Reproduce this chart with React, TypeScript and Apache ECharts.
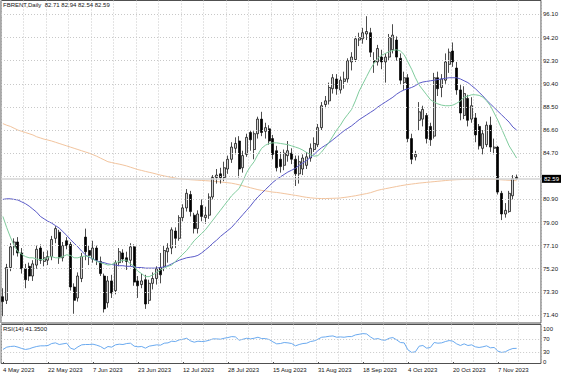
import React, { useEffect, useRef } from 'react';
import * as echarts from 'echarts';

// Trading days shown (MT4 bars), by month of 2023
const MAY = [4, 5, 8, 9, 10, 11, 12, 15, 16, 17, 18, 19, 22, 23, 24, 25, 26, 29, 30, 31];
const JUN = [1, 2, 5, 6, 7, 8, 9, 12, 13, 14, 15, 16, 19, 20, 21, 22, 23, 26, 27, 28, 29, 30];
const JUL = [3, 5, 6, 7, 10, 11, 12, 13, 14, 17, 18, 19, 20, 21, 24, 25, 26, 27, 28, 31];
const AUG = [1, 2, 3, 4, 7, 8, 9, 10, 11, 14, 15, 16, 17, 18, 21, 22, 23, 24, 25, 28, 29, 30, 31];
const SEP = [1, 4, 5, 6, 7, 8, 11, 12, 13, 14, 15, 18, 19, 20, 21, 22, 25, 26, 27, 28, 29];
const OCT = [2, 3, 4, 5, 6, 9, 10, 11, 12, 13, 16, 17, 18, 19, 20, 23, 24, 25, 26, 27, 30, 31];
const NOV = [1, 2, 3, 6, 7, 8, 9, 10, 13, 14];
const EMPTY_SLOTS = 6;

const OPEN = [
  72.9, 72.6, 75.3, 77.0, 77.4, 76.5, 75.2, 75.4, 74.6, 75.5, 76.9, 75.8, 75.9, 76.2, 77.7, 78.2, 76.1, 77.5, 77.2, 73.7,
  72.8, 74.4, 77.8, 76.7, 76.0, 76.9, 75.8, 74.6, 72.4, 74.2, 73.4, 75.7, 76.5, 76.1, 75.9, 77.0, 74.2, 73.9, 74.3, 72.6,
  74.0, 74.4, 75.3, 75.4, 76.6, 76.9, 78.3, 77.7, 79.4, 80.2, 81.3, 79.6, 78.5, 80.4, 79.4, 79.6, 81.1, 82.7, 83.0, 82.7,
  83.4, 84.2, 85.1, 85.7, 83.5, 84.6, 86.4, 85.0, 86.3, 87.5, 86.5, 86.7, 85.9, 84.9, 84.2, 83.7, 84.5, 84.7, 84.2, 83.0,
  83.4, 83.7, 84.3, 85.0, 85.4, 86.8, 88.7, 89.0, 90.0, 90.8, 89.9, 90.6, 90.8, 92.2, 92.4, 94.0, 94.1, 94.5, 94.6, 92.3,
  92.2, 92.6, 92.2, 92.6, 93.2, 94.0, 92.5, 90.5, 90.9, 85.9, 84.4, 87.4, 87.5, 87.8, 86.9, 86.1, 90.9, 90.1, 90.7, 92.0,
  93.1, 91.7, 89.9, 87.8, 89.2, 87.5, 87.6, 86.9, 85.1, 85.4, 87.0, 85.1, 85.2, 81.4, 79.7, 79.9, 81.2, 82.71
];
const HIGH = [
  73.6, 75.6, 77.3, 77.7, 77.8, 76.9, 75.6, 75.7, 75.9, 77.1, 77.2, 76.6, 76.7, 77.9, 78.7, 78.4, 77.4, 77.8, 77.4, 74.0,
  74.9, 76.5, 78.5, 77.1, 77.5, 77.1, 76.2, 74.8, 74.6, 74.7, 75.9, 76.9, 76.8, 76.6, 77.3, 77.2, 74.6, 74.8, 74.7, 74.3,
  74.9, 75.4, 76.5, 77.1, 77.3, 78.6, 78.6, 79.6, 80.5, 81.75, 81.6, 79.8, 80.0, 80.9, 80.3, 81.4, 82.9, 83.4, 83.5, 84.0,
  84.5, 85.6, 86.0, 86.1, 84.9, 86.3, 86.6, 86.5, 87.7, 88.1, 87.2, 87.0, 86.2, 85.3, 84.8, 85.0, 85.7, 85.1, 84.5, 84.5,
  84.6, 84.8, 85.5, 86.0, 87.1, 88.9, 89.4, 90.5, 91.2, 91.2, 91.0, 91.4, 92.5, 93.0, 94.3, 94.6, 95.0, 95.96, 95.0, 93.0,
  93.6, 93.2, 92.9, 94.5, 95.3, 94.3, 92.9, 91.4, 91.2, 86.3, 84.9, 88.9, 88.6, 88.0, 87.2, 91.3, 91.4, 91.2, 92.9, 93.3,
  93.8, 92.2, 90.3, 90.2, 89.5, 89.3, 88.0, 87.1, 86.6, 87.3, 87.7, 85.9, 85.3, 81.6, 80.6, 81.6, 82.9, 82.94
];
const LOW = [
  71.3, 72.3, 75.0, 76.3, 76.2, 74.8, 73.6, 74.2, 74.2, 75.2, 75.6, 75.4, 75.5, 75.9, 77.3, 75.6, 75.8, 76.8, 73.4, 71.5,
  72.5, 74.1, 75.9, 75.5, 75.7, 75.5, 74.6, 71.6, 72.0, 72.8, 73.1, 75.4, 75.7, 75.1, 75.4, 73.8, 72.8, 73.6, 71.9, 72.3,
  73.5, 73.9, 74.0, 75.0, 75.7, 76.4, 76.9, 77.5, 79.1, 79.9, 79.5, 78.1, 78.1, 79.1, 78.9, 79.3, 80.9, 82.2, 82.2, 82.4,
  83.0, 83.9, 84.6, 82.7, 83.1, 84.4, 84.9, 84.2, 85.9, 86.1, 85.9, 85.4, 84.2, 83.2, 83.1, 83.3, 84.0, 83.8, 82.0, 82.2,
  82.9, 83.4, 84.0, 84.8, 85.2, 86.6, 88.4, 88.7, 89.6, 89.5, 89.6, 90.0, 90.5, 91.5, 92.2, 93.5, 93.7, 94.0, 92.6, 91.3,
  91.9, 91.6, 90.5, 92.3, 92.9, 92.3, 90.3, 89.9, 85.6, 83.8, 84.1, 86.6, 86.9, 85.5, 85.3, 85.9, 89.4, 89.3, 90.4, 91.3,
  91.8, 89.5, 87.4, 87.5, 86.9, 87.2, 85.6, 85.0, 84.6, 85.2, 84.8, 84.6, 81.3, 79.2, 79.4, 79.8, 80.9, 82.54
];
const CLOSE = [
  72.5, 75.3, 77.0, 77.4, 76.5, 75.2, 74.3, 74.6, 75.6, 76.8, 75.9, 76.1, 76.2, 77.6, 78.5, 76.1, 77.1, 77.1, 73.7, 72.6,
  74.6, 76.2, 76.6, 76.3, 76.9, 75.9, 74.8, 71.9, 74.2, 73.2, 75.7, 76.6, 76.0, 75.8, 77.0, 74.1, 73.8, 74.2, 72.3, 74.0,
  74.4, 75.2, 74.7, 76.7, 76.9, 78.4, 77.7, 79.4, 80.2, 81.4, 79.9, 78.5, 79.7, 79.5, 79.6, 81.1, 82.7, 82.9, 82.7, 83.5,
  84.2, 85.2, 85.5, 83.4, 84.5, 86.0, 85.8, 86.3, 87.5, 86.4, 86.8, 85.7, 84.6, 83.5, 83.6, 84.7, 84.9, 84.2, 83.0, 84.0,
  84.3, 84.4, 85.1, 85.5, 86.8, 88.6, 89.0, 90.1, 90.9, 90.0, 90.7, 90.8, 92.3, 92.6, 94.1, 94.2, 94.6, 94.7, 93.0, 92.2,
  93.3, 92.2, 92.6, 94.2, 94.4, 92.6, 90.7, 90.9, 85.9, 84.2, 84.6, 88.1, 88.3, 85.9, 85.8, 90.9, 90.0, 90.8, 92.2, 93.0,
  92.2, 89.9, 88.0, 89.6, 87.4, 88.6, 86.2, 85.3, 86.3, 87.0, 85.2, 85.2, 81.5, 79.7, 80.0, 81.4, 82.6, 82.59
];

// Moving averages
const MA_FAST = [
  79.5, 78.6, 77.8, 77.1, 76.6, 76.4, 76.2, 76.1, 76.1, 76.0, 75.95, 75.95, 76.15, 76.2, 76.1, 76.1, 76.2, 76.35, 76.3, 76.1,
  76.1, 76.2, 76.25, 76.2, 76.0, 75.8, 75.7, 75.6, 75.5, 75.55, 75.7, 75.8, 75.9, 75.9, 75.6, 75.4, 75.0, 74.8, 74.55, 74.55,
  74.7, 74.9, 75.1, 75.25, 75.4, 75.5, 75.8, 76.1, 76.4, 76.7, 77.1, 77.5, 77.8, 78.1, 78.4, 78.8, 79.2, 79.6, 80.0, 80.4,
  80.8, 81.2, 81.5, 81.8, 82.4, 83.1, 83.6, 84.0, 84.6, 85.1, 85.35, 85.5, 85.55, 85.55, 85.5, 85.45, 85.4, 85.3, 85.2, 85.1,
  84.95, 84.75, 84.6, 84.45, 84.5, 84.8, 85.2, 85.6, 86.1, 86.6, 87.0, 87.5, 87.9, 88.3, 89.0, 89.8, 90.4, 91.0, 91.6, 92.1,
  92.5, 92.75, 92.9, 93.05, 93.15, 93.2, 93.1, 92.8, 92.2, 91.6, 90.9, 90.3, 89.9, 89.5, 89.1, 88.9, 88.75, 88.65, 88.6, 88.6,
  88.65, 88.8, 89.0, 89.3, 89.4, 89.5, 89.5, 89.45, 89.3, 89.0, 88.6, 88.0, 87.4, 86.7, 86.0, 85.3, 84.8, 84.3
];
const MA_MID = [
  80.9, 80.95, 80.95, 80.9, 80.85, 80.7, 80.55, 80.35, 80.1, 79.85, 79.5, 79.3, 79.1, 78.95, 78.75, 78.55, 78.25, 77.95, 77.6, 77.3,
  77.0, 76.65, 76.35, 76.15, 76.0, 75.85, 75.75, 75.7, 75.6, 75.55, 75.5, 75.45, 75.45, 75.4, 75.4, 75.35, 75.3, 75.3, 75.25, 75.25,
  75.25, 75.25, 75.3, 75.35, 75.45, 75.6, 75.75, 75.9, 76.0, 76.1, 76.15, 76.2, 76.3, 76.5, 76.75, 77.0, 77.3, 77.55, 77.85, 78.1,
  78.35, 78.6, 78.95, 79.3, 79.65, 80.0, 80.35, 80.75, 81.1, 81.4, 81.7, 82.0, 82.3, 82.55, 82.75, 82.95, 83.15, 83.3, 83.45, 83.7,
  83.9, 84.1, 84.35, 84.6, 84.9, 85.15, 85.35, 85.55, 85.8, 86.05, 86.3, 86.55, 86.75, 86.95, 87.2, 87.45, 87.65, 87.85, 88.05, 88.25,
  88.5, 88.7, 88.9, 89.1, 89.3, 89.55, 89.75, 89.9, 90.0, 90.1, 90.25, 90.45, 90.55, 90.6, 90.65, 90.7, 90.75, 90.8, 90.85, 90.9,
  90.9, 90.9, 90.8, 90.65, 90.5, 90.25, 90.0, 89.7, 89.4, 89.05, 88.75, 88.45, 88.15, 87.85, 87.55, 87.25, 86.85, 86.6
];
const MA_SLOW = [
  87.13, 87.0, 86.9, 86.75, 86.6, 86.5, 86.4, 86.3, 86.2, 86.05, 85.95, 85.85, 85.78, 85.7, 85.6, 85.5, 85.4, 85.3, 85.2, 85.1,
  85.0, 84.9, 84.8, 84.7, 84.58, 84.45, 84.3, 84.15, 84.0, 83.93, 83.86, 83.8, 83.73, 83.65, 83.55, 83.45, 83.35, 83.28, 83.2, 83.13,
  83.06, 82.98, 82.9, 82.83, 82.77, 82.71, 82.65, 82.6, 82.57, 82.55, 82.52, 82.5, 82.48, 82.46, 82.44, 82.42, 82.4, 82.37, 82.34, 82.3,
  82.27, 82.23, 82.17, 82.1, 82.02, 81.94, 81.86, 81.78, 81.7, 81.64, 81.6, 81.55, 81.5, 81.47, 81.43, 81.38, 81.33, 81.28, 81.23, 81.18,
  81.12, 81.07, 81.03, 81.0, 80.98, 80.97, 80.97, 80.98, 80.99, 81.0, 81.02, 81.06, 81.1, 81.15, 81.2, 81.26, 81.32, 81.38, 81.45, 81.55,
  81.65, 81.72, 81.78, 81.84, 81.9, 81.96, 82.02, 82.07, 82.12, 82.16, 82.2, 82.24, 82.27, 82.3, 82.33, 82.36, 82.39, 82.42, 82.45, 82.48,
  82.5, 82.52, 82.53, 82.54, 82.55, 82.56, 82.56, 82.57, 82.57, 82.57, 82.56, 82.55, 82.53, 82.51, 82.49, 82.47, 82.45, 82.44
];
const RSI = [
  38, 45, 47, 48, 45, 41, 38, 40, 44, 47, 49, 49, 50, 56, 58, 53, 55, 57, 42, 38,
  46, 52, 53, 53, 54, 51, 47, 40, 47, 45, 52, 54, 53, 56, 57, 48, 46, 47, 42, 48,
  50, 52, 51, 57, 58, 63, 62, 67, 69, 72, 64, 60, 63, 62, 63, 66, 70, 70, 69, 72,
  74, 77, 76, 66, 69, 72, 70, 72, 75, 71, 71, 68, 61, 55, 56, 59, 58, 56, 49, 53,
  56, 57, 62, 64, 69, 75, 76, 78, 79, 75, 76, 75, 77, 77, 82, 84, 86, 85, 76, 69,
  71, 67, 66, 72, 74, 67, 59, 58, 37, 29, 31, 48, 50, 42, 44, 59, 57, 58, 62, 65,
  63, 55, 50, 55, 50, 52, 46, 44, 46, 49, 43, 44, 33, 29, 31, 37, 41, 41.35
];

// Price grid levels; the 82.80 label sits under the last-price box in the reference
const PRICE_GRID = [71.4, 73.3, 75.2, 77.1, 79.0, 80.9, 82.8, 84.7, 86.6, 88.5, 90.4, 92.3, 94.2, 96.1];
const PRICE_LABELS = [71.4, 73.3, 75.2, 77.1, 79.0, 80.9, 84.7, 86.6, 88.5, 90.4, 92.3, 94.2, 96.1];
const RSI_TICKS = [0, 30, 70, 100];
const RSI_LEVELS = [30, 70];
const LAST_PRICE = 82.59;
const TITLE = 'FBRENT,Daily  82.71 82.94 82.54 82.59';
const RSI_TITLE = 'RSI(14) 41.3500';

const FONT = '"Liberation Sans", Arial, sans-serif';
const TXT = '#151515';

function buildCategories(): string[] {
  const months: [string, number[]][] = [
    ['May', MAY], ['Jun', JUN], ['Jul', JUL], ['Aug', AUG], ['Sep', SEP], ['Oct', OCT], ['Nov', NOV],
  ];
  const cats: string[] = [];
  months.forEach(([m, days]) => days.forEach((d) => cats.push(`${d} ${m} 2023`)));
  for (let k = 0; k < EMPTY_SLOTS; k++) cats.push(' '.repeat(k + 1));
  return cats;
}

export default function App() {
  const ref = useRef<HTMLDivElement>(null);
  useEffect(() => {
    if (!ref.current) return;
    const chart = echarts.init(ref.current, undefined, { renderer: 'svg' });
    const cats = buildCategories();
    const candles = OPEN.map((o, i) => [o, CLOSE[i], LOW[i], HIGH[i]]);
    const gridDot = { color: '#c8c8c8', type: [1, 2] as any, width: 1 };

    const option: any = {
      animation: false,
      backgroundColor: '#ffffff',
      textStyle: { fontFamily: FONT },
      title: [
        { text: TITLE, left: 3, top: 2, padding: 0, textStyle: { fontSize: 6, fontWeight: 'normal', color: TXT, fontFamily: FONT } },
        { text: RSI_TITLE, left: 3, top: 326, padding: 0, textStyle: { fontSize: 6, fontWeight: 'normal', color: TXT, fontFamily: FONT } },
      ],
      grid: [
        { left: 1, top: 0.5, width: 540, height: 322.5, show: true, borderColor: '#505050', borderWidth: 1, backgroundColor: 'transparent' },
        { left: 1, top: 324.5, width: 540, height: 39, show: true, borderColor: '#505050', borderWidth: 1, backgroundColor: 'transparent' },
      ],
      xAxis: [
        {
          type: 'category', gridIndex: 0, data: cats, boundaryGap: true,
          axisLine: { show: false }, axisTick: { show: false }, axisLabel: { show: false },
          splitLine: { show: true, interval: 5, lineStyle: gridDot },
        },
        {
          type: 'category', gridIndex: 1, data: cats, boundaryGap: true,
          axisLine: { show: false },
          axisTick: { show: true, interval: 11, length: 2, alignWithLabel: true, lineStyle: { color: '#505050' } },
          axisLabel: { show: true, interval: 11, align: 'left', fontSize: 6, color: TXT, margin: 3, fontFamily: FONT },
          splitLine: { show: true, interval: 5, lineStyle: gridDot },
        },
      ],
      yAxis: [
        {
          type: 'value', gridIndex: 0, position: 'right', min: 70.74, max: 97.25, scale: true,
          axisLine: { show: false }, axisTick: { show: false },
          splitLine: { show: false },
          axisLabel: {
            show: true, customValues: PRICE_LABELS, fontSize: 6, color: TXT, margin: 2, fontFamily: FONT,
            formatter: (v: number) => v.toFixed(2),
          },
        },
        {
          type: 'value', gridIndex: 1, position: 'right', min: -4.5, max: 113.6,
          axisLine: { show: false }, axisTick: { show: false }, splitLine: { show: false },
          axisLabel: { show: true, customValues: RSI_TICKS, fontSize: 6, color: TXT, margin: 2, fontFamily: FONT, formatter: (v: number) => String(v) },
        },
      ],
      series: [
        {
          name: 'MA slow', type: 'line', xAxisIndex: 0, yAxisIndex: 0, data: MA_SLOW, showSymbol: false, silent: true, z: 1,
          lineStyle: { color: '#f2c49e', width: 1 },
          markLine: {
            silent: true, symbol: 'none', animation: false,
            label: { show: false },
            lineStyle: gridDot,
            data: PRICE_GRID.map((p) => ({ yAxis: p })),
          },
        },
        {
          name: 'MA mid', type: 'line', xAxisIndex: 0, yAxisIndex: 0, data: MA_MID, showSymbol: false, silent: true, z: 3,
          lineStyle: { color: '#5a5ac8', width: 1 },
        },
        {
          name: 'MA fast', type: 'line', xAxisIndex: 0, yAxisIndex: 0, data: MA_FAST, showSymbol: false, silent: true, z: 3,
          lineStyle: { color: '#7fcc9d', width: 1 },
        },
        {
          name: 'FBRENT', type: 'candlestick', xAxisIndex: 0, yAxisIndex: 0, data: candles, barWidth: 2.7, z: 2,
          itemStyle: { color: '#d2d2d2', color0: '#000000', borderColor: '#000000', borderColor0: '#000000', borderWidth: 0.7 },
          markLine: {
            silent: true, symbol: 'none', animation: false,
            lineStyle: { color: '#d4d4d4', type: 'solid', width: 1.5 },
            label: {
              show: true, position: 'end', distance: 1, formatter: LAST_PRICE.toFixed(2),
              backgroundColor: '#000', color: '#fff', fontSize: 6, padding: [1, 2], fontFamily: FONT,
            },
            data: [{ yAxis: LAST_PRICE }],
          },
        },
        {
          name: 'RSI', type: 'line', xAxisIndex: 1, yAxisIndex: 1, data: RSI, showSymbol: false, silent: true,
          lineStyle: { color: '#6aaaf0', width: 1 },
          markLine: {
            silent: true, symbol: 'none', animation: false, label: { show: false },
            lineStyle: gridDot,
            data: RSI_LEVELS.map((v) => ({ yAxis: v })),
          },
        },
      ],
    };
    chart.setOption(option);
    return () => chart.dispose();
  }, []);
  return (
    <div
      ref={ref}
      style={{ position: 'absolute', left: 0, top: 0, width: 564, height: 376, background: '#fff' }}
    />
  );
}
